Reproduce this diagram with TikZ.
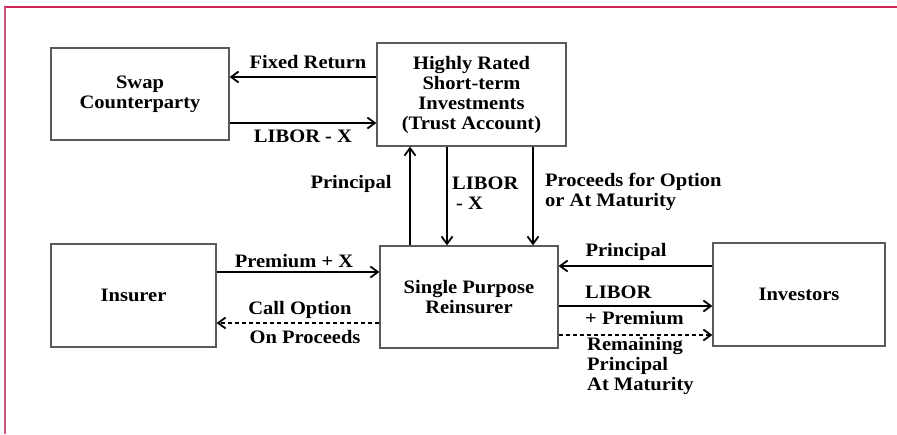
\documentclass[tikz,border=0pt]{standalone}
\usepackage{fontspec}
\setmainfont{Liberation Serif}[FakeStretch=1.08]
\usetikzlibrary{arrows.meta}
\definecolor{frametop}{RGB}{205,35,85}
\definecolor{frameleft}{RGB}{205,85,125}
\definecolor{boxline}{RGB}{90,90,90}
\tikzset{
  box/.style={draw=boxline, line width=1.2pt, align=center, inner sep=0pt,
    font=\fontsize{19}{20}\selectfont\bfseries},
  lbl/.style={inner sep=0pt, font=\fontsize{19}{20}\selectfont\bfseries},
  arr/.style={line width=2.2pt, -{Straight Barb[length=7.5pt,width=11pt,line width=1.8pt]}},
  darr/.style={arr, line width=1.8pt, dash pattern=on 4pt off 3pt}
}
\begin{document}
\begin{tikzpicture}[x=1pt,y=-1pt]
\useasboundingbox[fill=white] (0,0) rectangle (897,434);
\draw[frametop, line width=2pt] (4,6.5) -- (897,6.5);
\draw[frameleft, line width=2pt] (5,6.5) -- (5,434);

\node[box, minimum width=178pt, minimum height=92pt] (sc) at (140,94) {Swap\\Counterparty};
\node[box, minimum width=189pt, minimum height=103pt] (hr) at (471.5,94.5) {Highly Rated\\Short-term\\Investments\\(Trust Account)};
\node[box, minimum width=165pt, minimum height=103pt] (ins) at (133.5,295.5) {Insurer};
\node[box, minimum width=178pt, minimum height=102pt] (spr) at (469,297) {Single Purpose\\Reinsurer};
\node[box, minimum width=172pt, minimum height=103pt] (inv) at (799,294.5) {Investors};

% top row
\draw[arr] (hr.west |- 0,77) -- (sc.east |- 0,77);
\draw[arr] (sc.east |- 0,123) -- (hr.west |- 0,123);
\node[lbl] (lfr) at (308,62) {Fixed Return};
\node[lbl] (llx) at (303,136) {LIBOR - X};

% verticals
\draw[arr] (spr.north -| 410,0) -- (hr.south -| 410,0);
\draw[arr] (hr.south -| 447,0) -- (spr.north -| 447,0);
\draw[arr] (hr.south -| 533,0) -- (spr.north -| 533,0);
\node[lbl] (lpr) at (351,184) {Principal};
\node[lbl, anchor=west, align=left] (llx2) at (452,193) {LIBOR\\\hspace{4pt}- X};
\node[lbl, anchor=west, align=left] (lpo) at (545,192) {Proceeds for Option\\or At Maturity};

% left bottom
\draw[arr] (ins.east |- 0,272) -- (spr.west |- 0,272);
\draw[darr] (spr.west |- 0,323) -- (ins.east |- 0,323);
\node[lbl] (lpx) at (294,261) {Premium + X};
\node[lbl] (lco) at (300,310) {Call Option};
\node[lbl] (lop) at (305,337) {On Proceeds};

% right bottom
\draw[arr] (inv.west |- 0,266) -- (spr.east |- 0,266);
\draw[arr] (spr.east |- 0,306) -- (inv.west |- 0,306);
\draw[darr] (spr.east |- 0,335) -- (inv.west |- 0,335);
\node[lbl] (lpr2) at (626,252) {Principal};
\node[lbl, anchor=west] (llib) at (585,292) {LIBOR};
\node[lbl, anchor=west] (lprem) at (585,318) {+ Premium};
\node[lbl, anchor=west, align=left] (lrem) at (587,366) {Remaining\\Principal\\At Maturity};
\end{tikzpicture}
\end{document}
